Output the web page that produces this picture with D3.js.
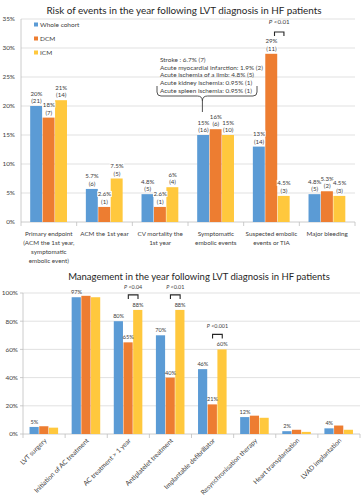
<!DOCTYPE html>
<html><head><meta charset="utf-8">
<script src="https://cdn.jsdelivr.net/npm/d3@7"></script>
<style>
html,body{margin:0;padding:0;background:#fff;}
svg{display:block;font-family:Lato,"Open Sans",sans-serif;}
</style></head>
<body>
<svg id="c" width="364" height="500"></svg>
<script>
// ---------- DATA ----------
const seriesNames = ["Whole cohort", "DCM", "ICM"];
const seriesColors = ["#5B9BD5", "#ED7D31", "#FFC83D"];

// Top chart: risk of events
const riskCategories = [
  ["Primary endpoint", "(ACM the 1st year,", "symptomatic", "embolic event)"],
  ["ACM the 1st year"],
  ["CV mortality  the", "1st year"],
  ["Symptomatic", "embolic events"],
  ["Suspected embolic", "events  or TIA"],
  ["Major bleeding"]
];
const riskWhole = [20, 5.7, 4.8, 15, 13, 4.8];
const riskDCM   = [18, 2.6, 2.6, 16, 29, 5.3];
const riskICM   = [21, 7.5, 6, 15, 4.5, 4.5];
const riskPct   = [["20%","5.7%","4.8%","15%","13%","4.8%"],
                   ["18%","2.6%","2.6%","16%","29%","5.3%"],
                   ["21%","7.5%","6%","15%","4.5%","4.5%"]];
const riskN     = [[21,6,5,16,14,5],[7,1,1,6,11,2],[14,5,4,10,3,3]];
const riskTicks = [0,5,10,15,20,25,30,35];
const embolicDetails = [
  "Stroke : 6.7% (7)",
  "Acute myocardial infarction: 1.9% (2)",
  "Acute ischemia of a limb: 4.8% (5)",
  "Acute kidney ischemia: 0.95% (1)",
  "Acute spleen ischemia: 0.95% (1)"
];

// Bottom chart: management
const mgmtCategories = ["LVT surgery","Initiation of AC treatment","AC treatment > 1 year",
  "Antiplatelet treatment","Implantable defibrillator","Resynchronisation therapy",
  "Heart transplantation","LVAD implantation"];
const mgmtWhole = [5, 97, 80, 70, 46, 12, 2, 4];
const mgmtDCM   = [5.5, 98, 65, 40, 21, 13, 3, 6];
const mgmtICM   = [4.5, 97, 88, 88, 60, 11.5, 1.5, 3];
const mgmtLabels = [["5%","97%","80%","70%","46%","12%","2%","4%"],
                    [null,null,"65%","40%","21%",null,null,null],
                    [null,null,"88%","88%","60%",null,null,null]];
const mgmtTicks = [0,20,40,60,80,100];
const mgmtPvals = [{cat:2, text:"P <0.04"},{cat:3, text:"P <0.01"},{cat:4, text:"P <0.001"}];

// ---------- DRAW ----------
(function(){
const svg = d3.select("#c");
const gridC = "#d9d9d9", axisC = "#bfbfbf", txtC = "#404040";

function labelWithBg(g, x, lines, yBase, fs, lh) {
  lines.forEach((t, i) => {
    const y = yBase + i*lh;
    const tx = g.append("text").attr("x", x).attr("y", y).attr("text-anchor","middle")
      .attr("font-size", fs).attr("fill", txtC).text(t);
    const bb = tx.node().getBBox();
    g.insert("rect", () => tx.node()).attr("x", bb.x-0.5).attr("y", bb.y+0.5)
      .attr("width", bb.width+1).attr("height", bb.height-1).attr("fill","#fff");
  });
}

// ===== Top chart =====
svg.append("text").attr("x", 184).attr("y", 14).attr("text-anchor","middle")
  .attr("font-size", 9.9).attr("fill", "#262626")
  .text("Risk of events in the year following LVT diagnosis in HF patients");

const tx0 = d3.scaleBand().domain(d3.range(riskCategories.length)).range([21, 355])
  .paddingInner(0.33).paddingOuter(0.165);
const tx1 = d3.scaleBand().domain([0,1,2]).range([0, tx0.bandwidth()]);
const ty = d3.scaleLinear().domain([0,35]).range([222, 19]);
const topG = svg.append("g");

topG.selectAll("line.grid").data(riskTicks.filter(d=>d>0)).join("line")
  .attr("x1", 21).attr("x2", 355).attr("y1", d=>ty(d)).attr("y2", d=>ty(d))
  .attr("stroke", gridC).attr("stroke-width", 0.8);
topG.selectAll("text.yt").data(riskTicks).join("text")
  .attr("x", 15).attr("y", d=>ty(d)+2.3).attr("text-anchor","end")
  .attr("font-size", 6.4).attr("fill", txtC).text(d=>d+"%");
topG.append("line").attr("x1",21).attr("x2",21).attr("y1",ty(35)).attr("y2",ty(0))
  .attr("stroke", axisC).attr("stroke-width",0.8);
topG.append("line").attr("x1",21).attr("x2",355).attr("y1",ty(0)).attr("y2",ty(0))
  .attr("stroke", axisC).attr("stroke-width",0.8);
d3.range(riskCategories.length+1).forEach(i=>{
  const x = 21 + i*tx0.step();
  topG.append("line").attr("x1",x).attr("x2",x).attr("y1",ty(0)).attr("y2",ty(0)+4)
    .attr("stroke", axisC).attr("stroke-width",0.8);
});

const riskSeries = [riskWhole, riskDCM, riskICM];
riskSeries.forEach((vals, s) => {
  topG.selectAll("rect.s"+s).data(vals).join("rect").attr("class","s"+s)
    .attr("x", (d,i)=>tx0(i)+tx1(s)).attr("width", tx1.bandwidth()-0.5)
    .attr("y", d=>ty(d)).attr("height", d=>ty(0)-ty(d)).attr("fill", seriesColors[s]);
});
const lblG = topG.append("g");
riskSeries.forEach((vals, s) => {
  vals.forEach((v,i)=>{
    const cx = tx0(i)+tx1(s)+tx1.bandwidth()/2;
    labelWithBg(lblG, cx, [riskPct[s][i], "("+riskN[s][i]+")"], ty(v)-10.5, 6.1, 7.7);
  });
});

// x labels
riskCategories.forEach((lines,i)=>{
  const cx = tx0(i)+tx0.bandwidth()/2;
  lines.forEach((t,j)=>{
    topG.append("text").attr("x", cx).attr("y", 236 + j*9).attr("text-anchor","middle")
      .attr("font-size", 6.3).attr("fill", txtC).text(t);
  });
});

// legend
seriesNames.forEach((n,i)=>{
  const y = 25 + i*14;
  topG.append("rect").attr("x",34).attr("y",y-2.5).attr("width",4).attr("height",4).attr("fill",seriesColors[i]);
  topG.append("text").attr("x",40).attr("y",y+2.3).attr("font-size",6.5).attr("fill",txtC).text(n);
});

// embolic detail annotation + brace
embolicDetails.forEach((t,i)=>{
  topG.append("text").attr("x",160).attr("y",62+i*7.7).attr("font-size",6.4).attr("fill",txtC).text(t);
});
{
  const mx = tx0(3)+tx1(0)+tx1.bandwidth()/2 - 1, l = 157, r = 257, yb = 96;
  topG.append("path").attr("fill","none").attr("stroke","#404040").attr("stroke-width",0.9)
    .attr("d", `M${l},86 L${l},${yb-4} Q${l},${yb} ${l+4},${yb} L${mx-5},${yb} Q${mx},${yb} ${mx},${yb+5} L${mx},112
      M${mx},${yb+5} Q${mx},${yb} ${mx+5},${yb} L${r-4},${yb} Q${r},${yb} ${r},${yb-4} L${r},86`);
}
// P value bracket (suspected embolic)
{
  const a = tx0(4)+tx1(1)+tx1.bandwidth()/2+3, b = tx0(4)+tx1(2)+tx1.bandwidth()/2;
  topG.append("path").attr("fill","none").attr("stroke","#262626").attr("stroke-width",1.1)
    .attr("d", `M${a},36 L${a},32 L${b},32 L${b},36`);
  const t = topG.append("text").attr("x",(a+b)/2).attr("y",24).attr("text-anchor","middle")
    .attr("font-size",6.2).attr("fill",txtC);
  t.append("tspan").attr("font-style","italic").text("P");
  t.append("tspan").text(" <0.01");
}

// ===== Bottom chart =====
svg.append("text").attr("x", 199).attr("y", 280).attr("text-anchor","middle")
  .attr("font-size", 9.5).attr("fill", "#262626")
  .text("Management in the year following LVT diagnosis in HF patients");

const bx0 = d3.scaleBand().domain(d3.range(mgmtCategories.length)).range([23, 360])
  .paddingInner(0.31).paddingOuter(0.155);
const bx1 = d3.scaleBand().domain([0,1,2]).range([0, bx0.bandwidth()]);
const by = d3.scaleLinear().domain([0,100]).range([434, 293]);
const bot = svg.append("g");

bot.selectAll("line.grid").data(mgmtTicks.filter(d=>d>0)).join("line")
  .attr("x1", 23).attr("x2", 360).attr("y1", d=>by(d)).attr("y2", d=>by(d))
  .attr("stroke", gridC).attr("stroke-width", 0.8);
bot.selectAll("text.yt").data(mgmtTicks).join("text")
  .attr("x", 18).attr("y", d=>by(d)+2.3).attr("text-anchor","end")
  .attr("font-size", 6.4).attr("fill", txtC).text(d=>d+"%");
bot.append("line").attr("x1",23).attr("x2",23).attr("y1",by(100)).attr("y2",by(0))
  .attr("stroke", axisC).attr("stroke-width",0.8);
mgmtTicks.forEach(d=>{
  bot.append("line").attr("x1",20).attr("x2",23).attr("y1",by(d)).attr("y2",by(d))
    .attr("stroke", axisC).attr("stroke-width",0.8);
});
bot.append("line").attr("x1",23).attr("x2",360).attr("y1",by(0)).attr("y2",by(0))
  .attr("stroke", axisC).attr("stroke-width",0.8);
d3.range(mgmtCategories.length+1).forEach(i=>{
  const x = 23 + i*bx0.step();
  bot.append("line").attr("x1",x).attr("x2",x).attr("y1",by(0)).attr("y2",by(0)+4)
    .attr("stroke", axisC).attr("stroke-width",0.8);
});

const mgmtSeries = [mgmtWhole, mgmtDCM, mgmtICM];
mgmtSeries.forEach((vals, s) => {
  bot.selectAll("rect.s"+s).data(vals).join("rect").attr("class","s"+s)
    .attr("x", (d,i)=>bx0(i)+bx1(s)).attr("width", bx1.bandwidth()-0.5)
    .attr("y", d=>by(d)).attr("height", d=>by(0)-by(d)).attr("fill", seriesColors[s]);
});
mgmtSeries.forEach((vals, s) => {
  vals.forEach((v,i)=>{
    const lab = mgmtLabels[s][i];
    if (!lab) return;
    const cx = bx0(i)+bx1(s)+bx1.bandwidth()/2;
    bot.append("text").attr("x",cx).attr("y",by(v)-3).attr("text-anchor","middle")
      .attr("font-size",5.6).attr("fill",txtC).text(lab);
  });
});
mgmtPvals.forEach(p=>{
  const a = bx0(p.cat)+bx1(1)+bx1.bandwidth()/2, b = bx0(p.cat)+bx1(2)+bx1.bandwidth()/2;
  const top2 = by(Math.max(mgmtDCM[p.cat], mgmtICM[p.cat])) - 15;
  bot.append("path").attr("fill","none").attr("stroke","#262626").attr("stroke-width",1.1)
    .attr("d", `M${a},${top2+4} L${a},${top2} L${b},${top2} L${b},${top2+4}`);
  const t = bot.append("text").attr("x",(a+b)/2).attr("y",top2-6).attr("text-anchor","middle")
    .attr("font-size",5.4).attr("fill",txtC);
  t.append("tspan").attr("font-style","italic").text("P");
  t.append("tspan").text(p.text.slice(1));
});
mgmtCategories.forEach((n,i)=>{
  const cx = bx0(i)+bx0.bandwidth()/2 + 3;
  bot.append("text").attr("transform",`translate(${cx},441) rotate(-45)`)
    .attr("text-anchor","end").attr("font-size",6.6).attr("fill",txtC).text(n);
});
})();
</script>
</body></html>
